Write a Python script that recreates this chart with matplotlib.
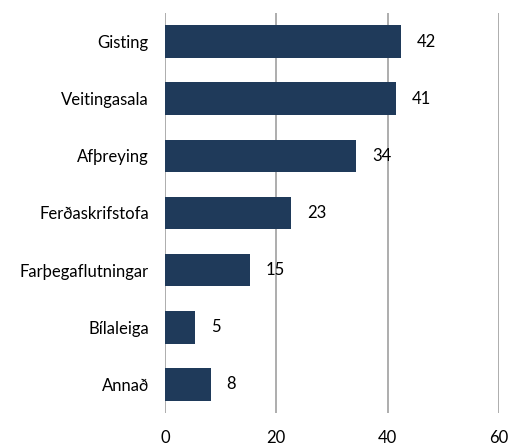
import matplotlib.pyplot as plt

categories = ["Gisting", "Veitingasala", "Afþreying", "Ferðaskrifstofa",
              "Farþegaflutningar", "Bílaleiga", "Annað"]
values = [42.3, 41.4, 34.3, 22.6, 15.3, 5.5, 8.2]
labels = ["42", "41", "34", "23", "15", "5", "8"]
xticks = [0, 20, 40, 60]

plt.rcParams['font.family'] = ['Lato', 'DejaVu Sans']

fig = plt.figure(figsize=(5.2, 4.46), dpi=100)
ax = fig.add_axes([0.317, 0.074, 0.643, 0.897])

ypos = list(range(len(categories)))
ax.barh(ypos, values, height=0.57, color="#1f3a5a", zorder=2)

for y, v, lab in zip(ypos, values, labels):
    ax.annotate(lab, (v, y), xytext=(11.5, 0), textcoords="offset points",
                va="center", ha="left", fontsize=12, color="black", zorder=3)

ax.set_xlim(0, 60)
ax.set_ylim(len(categories) - 0.5, -0.5)
ax.set_xticks(xticks)
ax.set_yticks(ypos)
ax.set_yticklabels(categories, fontsize=12)
ax.tick_params(axis="x", length=0, pad=12.5, labelsize=12)
ax.tick_params(axis="y", length=0, pad=11.5)
ax.grid(axis="x", color="#a0a0a0", linewidth=1.2, zorder=1)
ax.set_axisbelow(True)
for s in ax.spines.values():
    s.set_visible(False)

fig.savefig("out.png", dpi=100)
